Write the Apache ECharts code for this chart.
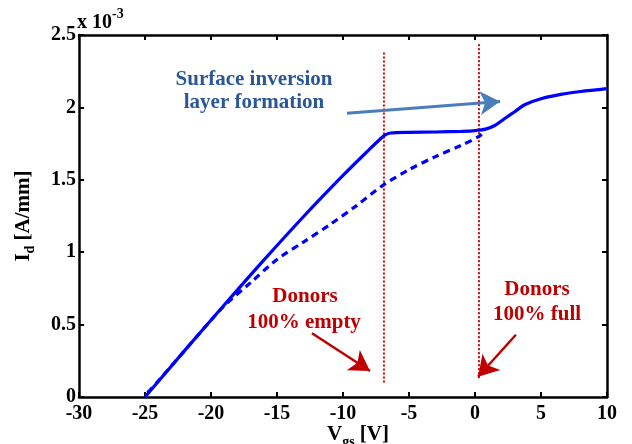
<!DOCTYPE html>
<html><head><meta charset="utf-8">
<script src="https://cdn.jsdelivr.net/npm/echarts@6/dist/echarts.min.js"></script>
<style>html,body{margin:0;padding:0;background:#fff}#c{width:632px;height:444px}</style>
</head><body><div id="c"></div>
<script>
// values in units of 1e-3 A/mm
const solidV = [-25.0,-22,-19,-16,-13,-10,-8,-7.2,-6.8,-6.4,-5,-3,-1,0,0.8,1.5,2.2,3.0,3.8,5,6.5,8,10];
const solidI = [0.0,0.32,0.635,0.945,1.245,1.53,1.71,1.78,1.81,1.823,1.828,1.83,1.835,1.84,1.85,1.875,1.92,1.97,2.02,2.06,2.09,2.11,2.13];
const dashV = [-24.8,-24,-22,-20,-19,-17,-15,-13,-11,-9,-7,-5,-3,-1,0.3,0.8];
const dashI = [0.03,0.11,0.32,0.53,0.63,0.79,0.95,1.07,1.19,1.32,1.46,1.57,1.66,1.74,1.80,1.84];
const emptyLineV = -6.9, emptyLineI = [0.1, 2.38];
const fullLineV = 0.3, fullLineI = [0.13, 2.44];
const xTicks = {min:-30, max:10, interval:5};
const yTicks = {min:0, max:2.5, interval:0.5};
const blueArrow = [[-9.7,1.96],[1.9,2.04]];
const redArrowEmpty = [[-12.35,0.44],[-7.95,0.18]];
const redArrowFull = [[3.1,0.43],[0.23,0.14]];

const zip = (a,b)=>a.map((v,i)=>[v,b[i]]);
const font = 'Liberation Serif, Times New Roman, serif';
const axisCommon = {
  axisLine:{show:true,onZero:false,lineStyle:{color:'#000',width:2.5}},
  axisTick:{show:true,inside:true,length:5,lineStyle:{color:'#000',width:2}},
  splitLine:{show:false}
};
const lbl = {color:'#000',fontFamily:font,fontWeight:'bold',fontSize:20};
const chart = echarts.init(document.getElementById('c'));
chart.setOption({
  animation:false,
  grid:{left:79,right:25,top:35,bottom:47},
  xAxis:[
    Object.assign({type:'value',position:'bottom',...xTicks,axisLabel:Object.assign({margin:7},lbl)},axisCommon),
    Object.assign({type:'value',position:'top',...xTicks,axisLabel:{show:false}},axisCommon)
  ],
  yAxis:[
    Object.assign({type:'value',position:'left',...yTicks,axisLabel:Object.assign({margin:3},lbl)},axisCommon),
    Object.assign({type:'value',position:'right',...yTicks,axisLabel:{show:false}},axisCommon)
  ],
  series:[
    {type:'line',data:zip(dashV,dashI),showSymbol:false,smooth:0.3,lineStyle:{color:'#0000ff',width:3.2,type:[7,5]},z:3},
    {type:'line',data:zip(solidV,solidI),showSymbol:false,smooth:0.3,lineStyle:{color:'#0000ff',width:3.2},z:4},
    {type:'line',data:emptyLineI.map(i=>[emptyLineV,i]),showSymbol:false,lineStyle:{color:'#dd0000',width:2,type:[2,2]},z:2},
    {type:'line',data:fullLineI.map(i=>[fullLineV,i]),showSymbol:false,lineStyle:{color:'#dd0000',width:2,type:[2,2]},z:2},
    {type:'line',data:[],markLine:{silent:true,animation:false,symbol:['none','arrow'],symbolSize:[18,20],label:{show:false},
      data:[
        [{coord:blueArrow[0],lineStyle:{color:'#4a7ebb',width:3,type:'solid'}},{coord:blueArrow[1]}],
        [{coord:redArrowEmpty[0],lineStyle:{color:'#c00000',width:2.5,type:'solid'}},{coord:redArrowEmpty[1]}],
        [{coord:redArrowFull[0],lineStyle:{color:'#c00000',width:2.5,type:'solid'}},{coord:redArrowFull[1]}]
      ]}}
  ],
  graphic:[
    {type:'text',left:77,top:7,style:{text:'{a|x 10}{b|-3}',rich:{a:{fontFamily:font,fontWeight:'bold',fontSize:20,fill:'#000',padding:[9,0,0,0]},b:{fontFamily:font,fontWeight:'bold',fontSize:14,fill:'#000',padding:[0,0,8,0]}}}},
    {type:'text',x:254,y:80,style:{text:'Surface inversion',fontFamily:font,fontWeight:'bold',fontSize:21,fill:'#2b5797',align:'center',verticalAlign:'middle'}},
    {type:'text',x:254,y:103,style:{text:'layer formation',fontFamily:font,fontWeight:'bold',fontSize:21,fill:'#2b5797',align:'center',verticalAlign:'middle'}},
    {type:'text',x:305,y:297,style:{text:'Donors',fontFamily:font,fontWeight:'bold',fontSize:21,fill:'#c00000',align:'center',verticalAlign:'middle'}},
    {type:'text',x:304,y:323,style:{text:'100% empty',fontFamily:font,fontWeight:'bold',fontSize:21,fill:'#c00000',align:'center',verticalAlign:'middle'}},
    {type:'text',x:537,y:290,style:{text:'Donors',fontFamily:font,fontWeight:'bold',fontSize:21,fill:'#c00000',align:'center',verticalAlign:'middle'}},
    {type:'text',x:537,y:315,style:{text:'100% full',fontFamily:font,fontWeight:'bold',fontSize:21,fill:'#c00000',align:'center',verticalAlign:'middle'}},
    {type:'text',x:24,y:216,rotation:Math.PI/2,style:{text:'{a|I}{b|d}{a| [A/mm]}',align:'center',verticalAlign:'middle',rich:{a:{fontFamily:font,fontWeight:'bold',fontSize:21,fill:'#000'},b:{fontFamily:font,fontWeight:'bold',fontSize:14,fill:'#000',padding:[12,0,0,0]}}}},
    {type:'text',x:358,y:435,style:{text:'{a|V}{b|gs}{a| [V]}',align:'center',verticalAlign:'middle',rich:{a:{fontFamily:font,fontWeight:'bold',fontSize:21,fill:'#000'},b:{fontFamily:font,fontWeight:'bold',fontSize:14,fill:'#000',padding:[14,0,0,0]}}}}
  ]
});
</script></body></html>
